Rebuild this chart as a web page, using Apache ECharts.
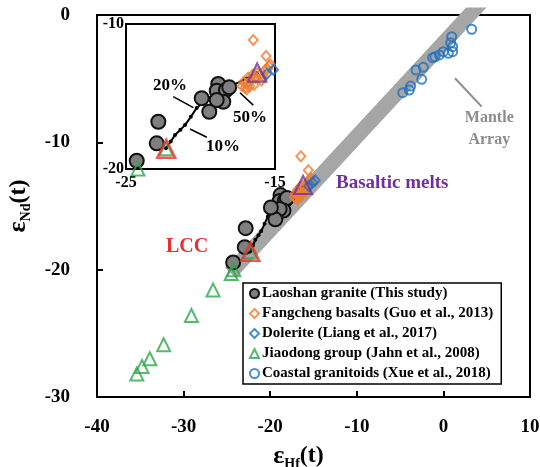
<!DOCTYPE html>
<html><head><meta charset="utf-8">
<script src="https://cdn.jsdelivr.net/npm/echarts@6/dist/echarts.min.js"></script>
<style>html,body{margin:0;padding:0;background:#fff}#c{width:540px;height:467px}</style>
</head><body><div id="c"></div>
<script>
// ---- data ----
const xTicks = [-40, -30, -20, -10, 0, 10];
const yTicks = [-30, -20, -10, 0];
const laoshanHf = [-18.81,-18.91,-18.29,-18.07,-18.47,-18.91,-19.41,-19.92,-22.83,-22.94,-24.28];
const laoshanNd = [-14.14,-14.6,-14.55,-14.37,-15.36,-15.24,-16.05,-15.12,-16.74,-18.23,-19.43];
const fangHf = [-16.46,-15.6,-17.2,-16.9,-16.6,-16.3,-16.0,-15.7,-15.4,-16.8,-16.4,-15.9,-17.0,-17.1,-16.7,-16.2,-15.8,-15.5,-15.3,-16.5,-16.9];
const fangNd = [-11.1,-12.2,-14.3,-14.1,-13.9,-13.7,-13.5,-13.2,-12.9,-13.7,-14.2,-13.9,-14.4,-14.0,-14.3,-13.4,-13.6,-13.1,-12.8,-13.5,-14.5];
const dolHf = [-15.55,-15.1,-14.8];
const dolNd = [-13.45,-13.15,-13.0];
const jiaoHf = [-35.4,-34.8,-33.9,-32.3,-29.1,-26.6,-24.5,-24.2,-22.3];
const jiaoNd = [-28.2,-27.6,-27.0,-25.9,-23.6,-21.6,-20.3,-20.0,-18.6];
const coastHf = [3.27,0.96,0.84,1.07,1.07,0.57,-0.01,-0.47,-0.97,-1.24,-2.32,-3.16,-2.51,-3.78,-3.94,-4.70];
const coastNd = [-1.12,-1.70,-2.18,-2.49,-2.88,-3.01,-2.88,-3.14,-3.28,-3.35,-4.11,-4.32,-5.05,-5.58,-5.89,-6.10];
const lccPoint = [-22.3, -18.6];
const meltPoint = [-16.2, -13.35];
const mixHf = [-22.32,-22.0,-21.71,-21.35,-21.04,-20.65,-20.26,-19.8,-19.4,-18.6,-17.8,-16.9,-16.23];
const mixNd = [-18.57,-18.1,-17.66,-17.3,-16.97,-16.4,-15.8,-15.4,-15.1,-14.6,-14.2,-13.75,-13.4];
const mantleHf = [-24.6, 6];
const mantleNd = [-20.25, 2.2];
const legendNames = ['Laoshan granite (This study)','Fangcheng basalts (Guo et al., 2013)','Dolerite (Liang et al., 2017)','Jiaodong group (Jahn et al., 2008)','Coastal granitoids (Xue et al., 2018)'];
// annotations (data coordinates)
const mainLabels = ['Mantle\nArray','Basaltic melts','LCC'];
const mainLabelPos = [[5.3,-8.95],[-12.4,-13.2],[-29.6,-18.2]];
const mainArrow = [[4.42,-7.2],[1.34,-4.97]];
const insetLabels = ['20%','50%','10%'];
const insetLabelPos = [[-22.05,-14.28],[-16.68,-16.48],[-18.49,-18.48]];
const insetArrows = [[[-21.83,-15.01],[-20.48,-15.77]],[[-16.46,-15.59],[-17.35,-14.74]],[[-19.58,-17.81],[-20.7,-17.24]]];

const zip = (a,b) => a.map((v,i)=>[v,b[i]]);
const FF = '"Liberation Serif","DejaVu Serif",serif';
const C = {gray:'#7f7f7f', orange:'#ed7d31', blue:'#1f70c1', green:'#2aa84a', red:'#e8312f', purple:'#7030a0'};

function groupSeries(g, pre, bigMarkers){
  const ax = {xAxisIndex:g, yAxisIndex:g};
  const s = [];
  if (g===0) s.push(Object.assign({name:'mantle', type:'line', data: zip(mantleHf, mantleNd), symbol:'none', clip:true,
    lineStyle:{color:'#a6a6a6', width:15, cap:'butt'}, z:1, silent:true}, ax));
  s.push(Object.assign({name:pre+'mix', type:'line', data: zip(mixHf,mixNd), symbol:'circle', symbolSize:4, showSymbol:true,
    itemStyle:{color:'#000'}, lineStyle:{color:'#000', width:2}, z:3, silent:true}, ax));
  s.push(Object.assign({name: g===0?legendNames[0]:pre+'l', type:'scatter', data: zip(laoshanHf,laoshanNd), symbol:'circle', symbolSize:14,
    itemStyle:{color:C.gray, borderColor:'#111', borderWidth:2, opacity:1}, z:4}, ax));
  s.push(Object.assign({name: g===0?legendNames[1]:pre+'f', type:'scatter', data: zip(fangHf,fangNd), symbol:'diamond', symbolSize:[9,10],
    itemStyle:{color:'rgba(255,255,255,0)', borderColor:C.orange, borderWidth:2}, z:5}, ax));
  s.push(Object.assign({name: g===0?legendNames[2]:pre+'d', type:'scatter', data: zip(dolHf,dolNd), symbol:'diamond', symbolSize:[9,10],
    itemStyle:{color:'rgba(255,255,255,0)', borderColor:C.blue, borderWidth:2}, z:5}, ax));
  s.push(Object.assign({name: g===0?legendNames[3]:pre+'j', type:'scatter', data: zip(jiaoHf,jiaoNd), symbol:'triangle', symbolSize:13,
    itemStyle:{color:'rgba(255,255,255,0)', borderColor:C.green, borderWidth:2}, z:6}, ax));
  s.push(Object.assign({name: g===0?legendNames[4]:pre+'c', type:'scatter', data: zip(coastHf,coastNd), symbol:'circle', symbolSize:9,
    itemStyle:{color:'rgba(255,255,255,0)', borderColor:C.blue, borderWidth:2}, z:5}, ax));
  s.push(Object.assign({name:pre+'lcc', type:'scatter', data:[lccPoint], symbol:'triangle', symbolSize:bigMarkers,
    itemStyle:{color:'rgba(255,255,255,0)', borderColor:C.red, borderWidth:2.5}, z:7}, ax));
  s.push(Object.assign({name:pre+'melt', type:'scatter', data:[meltPoint], symbol:'triangle', symbolSize:bigMarkers,
    itemStyle:{color:'rgba(255,255,255,0)', borderColor:C.purple, borderWidth:2.2}, z:7}, ax));
  return s;
}

const series = [].concat(groupSeries(0,'m_',18), groupSeries(1,'i_',18));

// arrows through the library's scales
series.push({name:'arrowMain', type:'scatter', xAxisIndex:0, yAxisIndex:0, data:[], silent:true,
  markLine:{silent:true, animation:false, symbol:['none','arrow'], symbolSize:[0,10], label:{show:false},
    lineStyle:{color:'#8c8c8c', width:2, type:'solid'},
    data:[[{coord:mainArrow[0]},{coord:mainArrow[1]}]]}
});
series.push({name:'arrowInset', type:'scatter', xAxisIndex:1, yAxisIndex:1, data:[], silent:true,
  markLine:{silent:true, animation:false, symbol:['none','arrow'], symbolSize:[0,9], label:{show:false},
    lineStyle:{color:'#000', width:1.6, type:'solid'},
    data: insetArrows.map(a=>[{coord:a[0]},{coord:a[1]}])}
});

const tickFont = {fontFamily:FF, fontWeight:'bold', fontSize:19, color:'#000'};
const nameRich = {
  e:{fontFamily:FF, fontWeight:'bold', fontSize:26, color:'#000', lineHeight:30},
  s:{fontFamily:FF, fontWeight:'bold', fontSize:14, color:'#000', lineHeight:12, verticalAlign:'bottom'},
  p:{fontFamily:FF, fontWeight:'bold', fontSize:24, color:'#000', lineHeight:30}
};
const blackLine = {show:true, onZero:false, lineStyle:{color:'#000', width:2}};

const option = {
  animation:false,
  backgroundColor:'#fff',
  grid:[
    {left:97, top:15, right:10, bottom:70, outerBoundsMode:'none', containLabel:false, show:true, borderColor:'#000', borderWidth:2, backgroundColor:'rgba(0,0,0,0)'},
    {left:126, top:24, width:149, height:145, outerBoundsMode:'none', containLabel:false, show:true, borderColor:'#000', borderWidth:2, backgroundColor:'#fff', z:3}
  ],
  xAxis:[
    {gridIndex:0, type:'value', position:'bottom', min:xTicks[0], max:xTicks[xTicks.length-1], interval:10,
     axisLine:blackLine, axisTick:{show:true, inside:true, length:6, lineStyle:{color:'#000', width:2}},
     splitLine:{show:false}, axisLabel:Object.assign({margin:21}, tickFont),
     name:'{e|ε}{s|Hf}{p|(t)}', nameLocation:'middle', nameGap:44, nameTextStyle:{rich:nameRich, padding:[0,30,0,0]}},
    {gridIndex:1, type:'value', position:'bottom', min:-25, max:-15, interval:5,
     axisLine:blackLine, axisTick:{show:false}, splitLine:{show:false},
     axisLabel:Object.assign({}, tickFont, {fontSize:16, margin:6, formatter:v=> v===-20 ? '' : String(v)})}
  ],
  yAxis:[
    {gridIndex:0, type:'value', position:'left', min:yTicks[0], max:yTicks[yTicks.length-1], interval:10,
     axisLine:blackLine, axisTick:{show:true, inside:true, length:6, lineStyle:{color:'#000', width:2}},
     splitLine:{show:false}, axisLabel:Object.assign({margin:27}, tickFont),
     name:'{e|ε}{s|Nd}{p|(t)}', nameLocation:'middle', nameGap:60, nameTextStyle:{rich:nameRich}},
    {gridIndex:1, type:'value', position:'left', min:-20, max:-10, interval:5,
     axisLine:blackLine, axisTick:{show:false}, splitLine:{show:false},
     axisLabel:Object.assign({}, tickFont, {fontSize:16, margin:2, formatter:v=> v===-15 ? '' : String(v)})}
  ],
  legend:{
    data: legendNames.map((n,i)=>({name:n, icon: ['circle','diamond','diamond','triangle','circle'][i]})),
    orient:'vertical', left:243, top:283, width:283,
    backgroundColor:'#fff', borderColor:'#000', borderWidth:1.5, borderRadius:0,
    padding:[3,8,3,6], itemGap:5, itemWidth:9, itemHeight:9,
    textStyle:{fontFamily:FF, fontWeight:'bold', fontSize:15, color:'#000', lineHeight:14.5, padding:[0,0,0,-2]},
    selectedMode:false
  },
  series: series
};
const chart = echarts.init(document.getElementById('c'), null, {renderer:'canvas'});
chart.setOption(option);

// text annotations placed through the axes' own scales
const gfx = [];
const mainColors = ['#8c8c8c', C.purple, C.red];
const mainSizes = [16, 19, 20];
mainLabels.forEach((t,i)=>{
  const p = chart.convertToPixel({xAxisIndex:0, yAxisIndex:0}, mainLabelPos[i]);
  gfx.push({type:'text', x:p[0], y:p[1], z:50, style:{text:t, fill:mainColors[i], font:'bold '+mainSizes[i]+'px '+FF,
    align: i===1 ? 'left' : 'center', verticalAlign:'middle', lineHeight:22}});
});
insetLabels.forEach((t,i)=>{
  const p = chart.convertToPixel({xAxisIndex:1, yAxisIndex:1}, insetLabelPos[i]);
  gfx.push({type:'text', x:p[0], y:p[1], z:50, style:{text:t, fill:'#000', font:'bold 17px '+FF, align:'center', verticalAlign:'middle'}});
});
chart.setOption({graphic: gfx});
</script></body></html>
